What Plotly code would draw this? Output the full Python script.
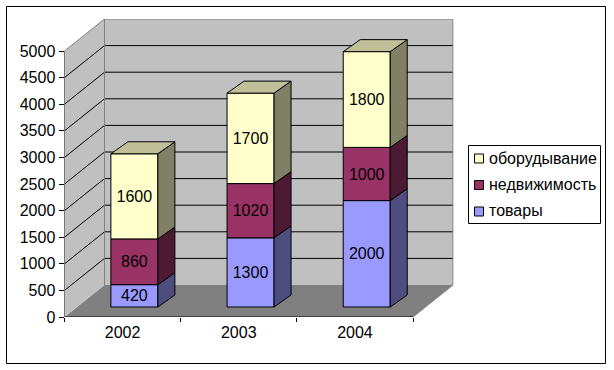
import plotly.graph_objects as go

W, H = 614, 370
years = ["2002", "2003", "2004"]
category_pos = [1, 2, 3]
names = ["товары", "недвижимость", "оборудывание"]
goods = [420, 1300, 2000]
realty = [860, 1020, 1000]
equipment = [1600, 1700, 1800]
series = [goods, realty, equipment]
y_ticks = [0, 500, 1000, 1500, 2000, 2500, 3000, 3500, 4000, 4500, 5000]

front = ["#9999FF", "#993366", "#FFFFCC"]
side = ["#4D4D80", "#4D1A33", "#808066"]
top_col = "#BFBF99"

# oblique projection of the chart's depth axis, in axis units
PX_X = 116.17
PX_Y = 0.0532
DX = 40 / PX_X
DY = 32 / PX_Y
BAR_W = 47 / PX_X
BAR_SHIFT_X = 11.8 / PX_X
BAR_SHIFT_Y = 10 / PX_Y
BAR_DX = 17 / PX_X
BAR_DY = 12 / PX_Y
X0, X1 = 0.5, 3.5
YMAX = 5000
FONT = 16

x_range = [X0, X0 + (453.7 - 64.5) / PX_X]
y_range = [0, (YMAX + DY)]


def fx(p):
    return p / W


def fy(p):
    return 1 - p / H


fig = go.Figure()
shapes = []


def poly(pts, fill):
    path = "M" + " L".join(f"{x},{y}" for x, y in pts) + " Z"
    shapes.append(dict(type="path", path=path, xref="x", yref="y", fillcolor=fill,
                       line=dict(width=0), layer="below"))


poly([(X0, 0), (X1, 0), (X1 + DX, DY), (X0 + DX, DY)], "#808080")
poly([(X0, 0), (X0 + DX, DY), (X0 + DX, YMAX + DY), (X0, YMAX)], "#C0C0C0")
poly([(X0 + DX, DY), (X1 + DX, DY), (X1 + DX, YMAX + DY), (X0 + DX, YMAX + DY)], "#C0C0C0")

for v in y_ticks[1:-1]:
    shapes.append(dict(type="line", xref="x", yref="y", x0=X0 + DX, x1=X1 + DX, y0=v + DY, y1=v + DY,
                       line=dict(color="black", width=1), layer="below"))
    shapes.append(dict(type="line", xref="x", yref="y", x0=X0, x1=X0 + DX, y0=v, y1=v + DY,
                       line=dict(color="black", width=1), layer="below"))

# frame and legend box
shapes.append(dict(type="rect", xref="paper", yref="paper", x0=fx(6.5), x1=fx(605.5), y0=fy(363.5), y1=fy(6.5),
                   line=dict(color="black", width=1), layer="below"))
shapes.append(dict(type="rect", xref="paper", yref="paper", x0=fx(468.5), x1=fx(600.5), y0=fy(223.5), y1=fy(145.5),
                   fillcolor="white", line=dict(color="black", width=1), layer="below"))

# wall outline and axes
edge_x = [X0, X0 + DX, X0 + DX, X0 + DX, None, X0 + DX, X1 + DX, X1 + DX, X1]
edge_y = [YMAX, YMAX + DY, DY, YMAX + DY, None, YMAX + DY, YMAX + DY, DY, 0]

stack = [0, 0, 0]
for s, vals in enumerate(series):
    xs = [c + BAR_SHIFT_X for c in category_pos]
    bases = [b + BAR_SHIFT_Y for b in stack]
    fig.add_trace(go.Bar(
        x=xs, y=vals, base=bases, width=BAR_W, name=names[s], showlegend=False,
        marker=dict(color=front[s], line=dict(color="black", width=1)),
        text=[str(v) for v in vals], textposition="inside", insidetextanchor="middle",
        textangle=0, textfont=dict(color="black", size=FONT), constraintext="none",
    ))
    px, py = [], []
    for x, b, v in zip(xs, bases, vals):
        r = x + BAR_W / 2
        px += [r, r + BAR_DX, r + BAR_DX, r, r, None]
        py += [b, b + BAR_DY, b + v + BAR_DY, b + v, b, None]
    fig.add_trace(go.Scatter(x=px, y=py, mode="lines", fill="toself", fillcolor=side[s],
                             line=dict(color="black", width=1), showlegend=False, hoverinfo="skip",
                             cliponaxis=False))
    if s == len(series) - 1:
        px, py = [], []
        for x, b, v in zip(xs, bases, vals):
            l, r, t = x - BAR_W / 2, x + BAR_W / 2, b + v
            px += [l, r, r + BAR_DX, l + BAR_DX, l, None]
            py += [t, t, t + BAR_DY, t + BAR_DY, t, None]
        fig.add_trace(go.Scatter(x=px, y=py, mode="lines", fill="toself", fillcolor=top_col,
                                 line=dict(color="black", width=1), showlegend=False, hoverinfo="skip",
                                 cliponaxis=False))
    stack = [a + b for a, b in zip(stack, vals)]

fig.add_trace(go.Scatter(x=edge_x, y=edge_y, mode="lines", line=dict(color="#808080", width=1),
                         showlegend=False, hoverinfo="skip", cliponaxis=False))
fig.add_trace(go.Scatter(x=[X0, X0, X1], y=[YMAX, 0, 0], mode="lines", line=dict(color="black", width=1),
                         showlegend=False, hoverinfo="skip", cliponaxis=False))

# legend, top to bottom
annotations = []
for name, col, cy in zip(reversed(names), reversed(front), [158.5, 185, 211.5]):
    shapes.append(dict(type="rect", xref="paper", yref="paper", x0=fx(474.5), x1=fx(483.5),
                       y0=fy(cy + 4.5), y1=fy(cy - 4.5), fillcolor=col,
                       line=dict(color="black", width=1)))
    annotations.append(dict(xref="paper", yref="paper", x=fx(487), y=fy(cy - 0.5), xanchor="left", yanchor="middle",
                            text=name, showarrow=False, font=dict(size=FONT, color="black")))

fig.update_layout(
    width=W, height=H, margin=dict(l=0, r=0, t=0, b=0, pad=0),
    paper_bgcolor="white", plot_bgcolor="white", barmode="overlay", showlegend=False,
    font=dict(family="Liberation Sans, Arial, sans-serif", size=FONT, color="black"),
    shapes=shapes, annotations=annotations,
    xaxis=dict(domain=[fx(64.5), fx(453.7)], range=x_range, showgrid=False, zeroline=False, automargin=False,
               tickmode="array", tickvals=category_pos, ticktext=years,
               ticks="outside", ticklen=1, tickcolor="rgba(0,0,0,0)", tickfont=dict(size=FONT),
               minor=dict(tickmode="array", tickvals=[0.5, 1.5, 2.5, 3.5], ticks="outside", ticklen=4,
                          tickcolor="black", tickwidth=1, showgrid=False)),
    yaxis=dict(domain=[fy(317), fy(317 - (YMAX + DY) * PX_Y)], range=y_range, showgrid=False, zeroline=False,
               automargin=False,
               tickmode="array", tickvals=y_ticks, ticktext=[str(v) for v in y_ticks],
               ticks="outside", ticklen=5, tickcolor="black", tickwidth=1, tickfont=dict(size=FONT)),
)

fig.write_html("out.html", config=dict(displayModeBar=False),
               post_script="document.body.style.margin='0';document.documentElement.style.overflow='hidden';")
